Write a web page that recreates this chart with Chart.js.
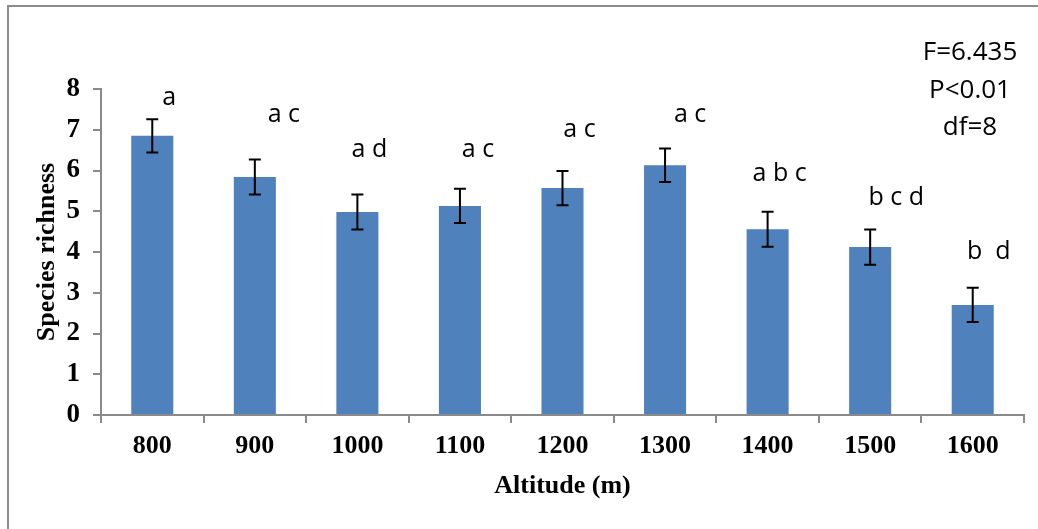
<!DOCTYPE html>
<html>
<head>
<meta charset="utf-8">
<title>Species richness by altitude</title>
<script src="https://cdn.jsdelivr.net/npm/chart.js@4.4.1/dist/chart.umd.min.js"></script>
<style>
    html, body { margin: 0; padding: 0; background: #fff; overflow: hidden; }
    #wrap { position: relative; width: 1038px; height: 529px; overflow: hidden; }
    #frame {
        position: absolute; left: 7px; top: 5px; width: 1100px; height: 600px;
        border-left: 2px solid #8c8c8c; border-top: 2px solid #8c8c8c;
    }
    #chart { position: absolute; left: 0; top: 0; }
</style>
</head>
<body>
<div id="wrap">
    <div id="frame"></div>
    <canvas id="chart" width="1038" height="529"></canvas>
</div>
<script>
// Data
var altitudes = ['800', '900', '1000', '1100', '1200', '1300', '1400', '1500', '1600'];
var richness = [6.85, 5.84, 4.98, 5.13, 5.57, 6.13, 4.56, 4.12, 2.70];
var stdErrors = [0.41, 0.43, 0.43, 0.42, 0.42, 0.41, 0.43, 0.43, 0.42];
var groupLetters = ['a', 'a c', 'a d', 'a c', 'a c', 'a c', 'a b c', 'b c d', 'b  d'];
var letterLevels = [7.61, 7.19, 6.33, 6.33, 6.82, 7.19, 5.74, 5.15, 3.83];
var statsLines = ['F=6.435', 'P<0.01', 'df=8'];

// Layout (pixels), kept apart from the data
var letterShift = [17, 29, 12, 18, 17, 25, 12, 26, 16];
var axisGray = '#8a8a8a';
var serif = '"Liberation Serif", "Times New Roman", serif';
var sans = '"Open Sans", "Liberation Sans", sans-serif';

/**
 * Draws error bars, group letters and the test statistics
 */
var annotations = {
    id: 'annotations',
    afterDatasetsDraw: function(chart) {
        var ctx = chart.ctx;
        var yScale = chart.scales.y;
        var area = chart.chartArea;
        var bars = chart.getDatasetMeta(0).data;

        ctx.save();
        ctx.strokeStyle = '#000';
        ctx.lineWidth = 2;
        bars.forEach(function(bar, i) {
            var top = yScale.getPixelForValue(richness[i] + stdErrors[i]);
            var bottom = yScale.getPixelForValue(richness[i] - stdErrors[i]);
            ctx.beginPath();
            ctx.moveTo(bar.x, top);
            ctx.lineTo(bar.x, bottom);
            ctx.moveTo(bar.x - 6, top);
            ctx.lineTo(bar.x + 6, top);
            ctx.moveTo(bar.x - 6, bottom);
            ctx.lineTo(bar.x + 6, bottom);
            ctx.stroke();
        });

        ctx.fillStyle = '#000';
        ctx.textAlign = 'center';
        ctx.textBaseline = 'alphabetic';
        ctx.font = '25px ' + sans;
        bars.forEach(function(bar, i) {
            ctx.fillText(groupLetters[i], bar.x + letterShift[i],
                yScale.getPixelForValue(letterLevels[i]));
        });

        ctx.font = '26px ' + sans;
        statsLines.forEach(function(line, i) {
            ctx.fillText(line, area.right - 54, area.top - 29 + i * 37.5);
        });
        ctx.restore();
    }
};

new Chart(document.getElementById('chart'), {
    type: 'bar',
    data: {
        labels: altitudes,
        datasets: [{
            data: richness,
            backgroundColor: '#4f81bd',
            borderWidth: 0,
            barPercentage: 0.41,
            categoryPercentage: 1
        }]
    },
    options: {
        responsive: false,
        animation: false,
        devicePixelRatio: 1,
        layout: { padding: { top: 89, right: 14, left: 0, bottom: 0 } },
        plugins: {
            legend: { display: false },
            tooltip: { enabled: false }
        },
        scales: {
            x: {
                offset: true,
                grid: {
                    offset: true,
                    drawOnChartArea: false,
                    tickLength: 8,
                    color: axisGray,
                    lineWidth: 2
                },
                border: { color: axisGray, width: 2 },
                ticks: {
                    color: '#000',
                    padding: 8,
                    maxRotation: 0,
                    autoSkip: false,
                    font: { family: serif, size: 26, weight: 'bold' }
                },
                title: {
                    display: true,
                    text: 'Altitude (m)',
                    color: '#000',
                    font: { family: serif, size: 26, weight: 'bold' },
                    padding: { top: 0, bottom: 27 }
                },
                afterFit: function(scale) { scale.height = 114; }
            },
            y: {
                min: 0,
                max: 8,
                grid: {
                    drawOnChartArea: false,
                    tickLength: 8,
                    color: axisGray,
                    lineWidth: 2
                },
                border: { color: axisGray, width: 2 },
                ticks: {
                    stepSize: 1,
                    color: '#000',
                    padding: 13,
                    font: { family: serif, size: 27, weight: 'bold' }
                },
                title: {
                    display: true,
                    text: 'Species richness',
                    color: '#000',
                    font: { family: serif, size: 26, weight: 'bold' },
                    padding: { top: 32, bottom: 0 }
                },
                afterFit: function(scale) { scale.width = 101; }
            }
        }
    },
    plugins: [annotations]
});
</script>
</body>
</html>
